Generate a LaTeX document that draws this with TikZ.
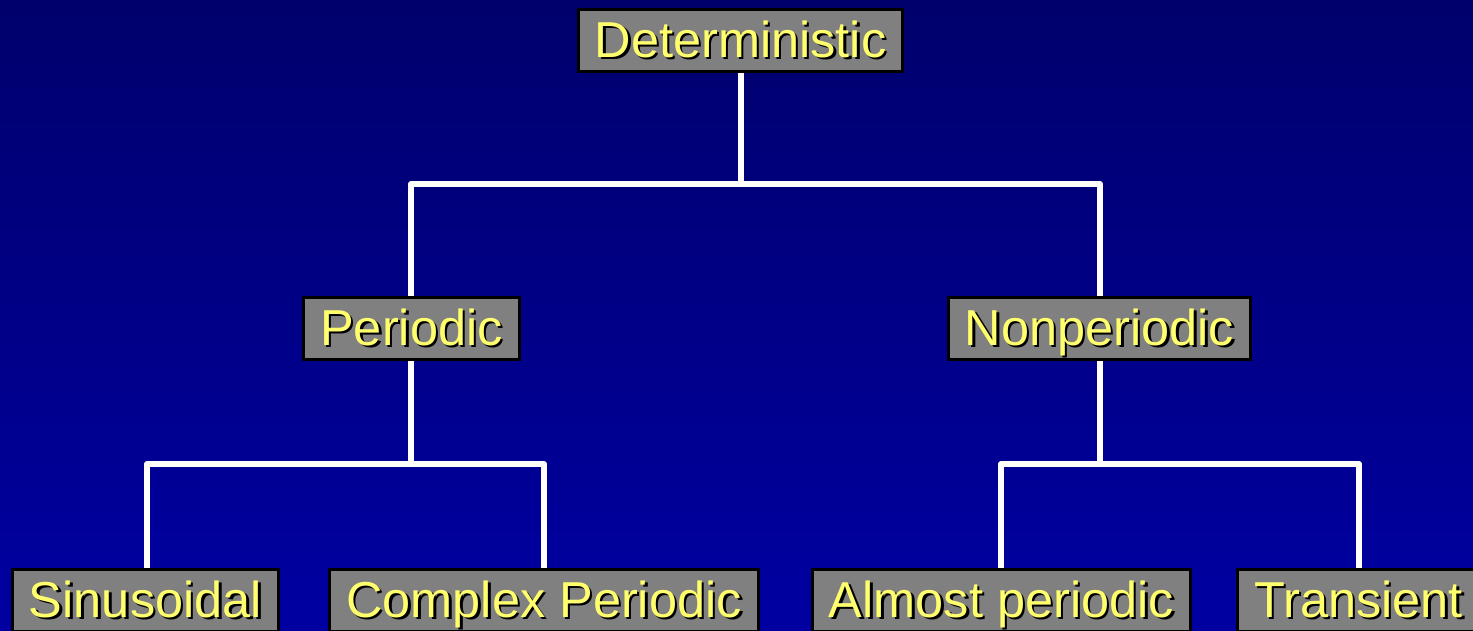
\documentclass[tikz,border=0pt]{standalone}
\usepackage{fontspec}
\setmainfont{Liberation Sans}
\definecolor{bgtop}{RGB}{0,0,108}
\definecolor{bgbot}{RGB}{0,0,162}
\definecolor{boxgrey}{RGB}{128,128,128}
\definecolor{labelyellow}{RGB}{255,255,110}
% yellow label with a dark drop shadow
\newcommand\shadowed[1]{\makebox[0pt][l]{\hspace{2.5pt}\raisebox{-2.5pt}{\color{black}#1}}#1}
\tikzset{
  classbox/.style={draw=black, line width=3pt, fill=boxgrey, text=labelyellow,
    font=\fontsize{50.5}{60}\selectfont, inner xsep=16.5pt, inner ysep=0pt,
    minimum height=62pt, text height=35pt, text depth=2pt},
  branch/.style={draw=white, line width=6pt, line join=round}
}
\begin{document}
\begin{tikzpicture}[x=1pt,y=-1pt]
  \shade[top color=bgtop, bottom color=bgbot] (0,0) rectangle (1473,630);
  \useasboundingbox (0,0) rectangle (1473,630);

  % connectors first, so the boxes sit on top of them
  \coordinate (detc) at (741,40.5);
  \coordinate (perc) at (411,328.5);
  \coordinate (nonc) at (1100,328.5);
  \coordinate (sinc) at (147,600.5);
  \coordinate (cpxc) at (544,600.5);
  \coordinate (almc) at (1001,600.5);
  \coordinate (trac) at (1359,600.5);
  \coordinate (bus0) at (741,184);
  \coordinate (busP) at (411,464);
  \coordinate (busN) at (1100,464);

  \draw[branch] (detc) -- (bus0);
  \draw[branch] (perc) |- (bus0) -| (nonc);
  \draw[branch] (perc) -- (busP);
  \draw[branch] (sinc) |- (busP) -| (cpxc);
  \draw[branch] (nonc) -- (busN);
  \draw[branch] (almc) |- (busN) -| (trac);

  \node[classbox] (det) at (740.5,40.5) {\shadowed{Deterministic}};
  \node[classbox] (per) at (411.5,328.5) {\shadowed{Periodic}};
  \node[classbox] (non) at (1099.5,328.5) {\shadowed{Nonperiodic}};
  \node[classbox] (sin) at (145.5,600.5) {\shadowed{Sinusoidal}};
  \node[classbox] (cpx) at (544,600.5) {\shadowed{Complex Periodic}};
  \node[classbox] (alm) at (1001.5,600.5) {\shadowed{Almost periodic}};
  \node[classbox] (tra) at (1358.5,600.5) {\shadowed{Transient}};
\end{tikzpicture}
\end{document}
